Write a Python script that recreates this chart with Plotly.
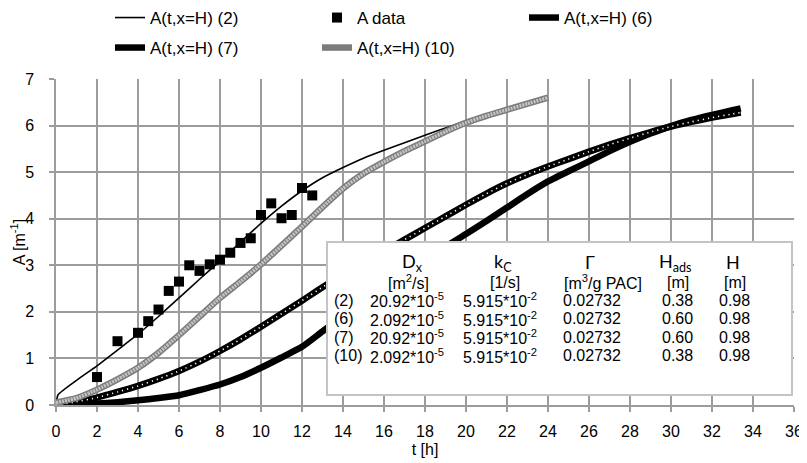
import plotly.graph_objects as go

# ---------------- data ----------------
t_data = [2, 3, 4, 4.5, 5, 5.5, 6, 6.5, 7, 7.5, 8, 8.5, 9, 9.5, 10, 10.5, 11, 11.5, 12, 12.5]
A_data = [0.6, 1.37, 1.55, 1.8, 2.05, 2.45, 2.65, 3.0, 2.88, 3.02, 3.12, 3.27, 3.48, 3.58, 4.08, 4.33, 4.01, 4.08, 4.66, 4.5]

t_2 = [0, 0.1, 1, 2, 3, 4, 5, 6, 7, 8, 9, 10, 11, 12, 13, 14, 15, 16, 17, 18, 19, 20, 21]
A_2 = [0, 0.22, 0.53, 0.84, 1.18, 1.52, 1.9, 2.3, 2.7, 3.09, 3.5, 3.9, 4.27, 4.6, 4.88, 5.1, 5.3, 5.47, 5.63, 5.79, 5.95, 6.1, 6.23]

t_6 = [0, 1, 2, 3, 4, 5, 6, 7, 8, 9, 10, 11, 12, 13, 14, 15, 16, 17, 18, 19, 20, 21, 22, 23, 24,
       25, 26, 27, 28, 29, 30, 31, 32, 33, 33.4]
A_6 = [0, 0.01, 0.03, 0.06, 0.1, 0.15, 0.21, 0.32, 0.44, 0.6, 0.8, 1.02, 1.25, 1.58, 1.9, 2.2, 2.5, 2.8, 3.1, 3.4, 3.67, 3.95, 4.24, 4.53, 4.8,
       5.02, 5.23, 5.45, 5.65, 5.83, 5.99, 6.12, 6.23, 6.33, 6.37]

t_7 = [0, 1, 2, 3, 4, 5, 6, 7, 8, 9, 10, 11, 12, 13, 14, 15, 16, 17, 18, 19, 20, 21, 22, 23, 24,
       25, 26, 27, 28, 29, 30, 31, 32, 33, 33.4]
A_7 = [0, 0.07, 0.16, 0.28, 0.41, 0.56, 0.73, 0.93, 1.16, 1.41, 1.68, 1.96, 2.24, 2.53, 2.8, 3.05, 3.3, 3.55, 3.8, 4.05, 4.3, 4.54, 4.76, 4.95, 5.12,
       5.28, 5.44, 5.59, 5.73, 5.86, 5.98, 6.08, 6.17, 6.25, 6.28]

t_10 = [0, 1, 2, 3, 4, 5, 6, 7, 8, 9, 10, 11, 12, 13, 14, 15, 16, 17, 18, 19, 20, 21, 22, 23, 24]
A_10 = [0.05, 0.15, 0.33, 0.55, 0.8, 1.12, 1.5, 1.9, 2.3, 2.65, 3.02, 3.42, 3.83, 4.25, 4.65, 4.97, 5.22, 5.45, 5.66, 5.87, 6.06, 6.21, 6.34, 6.47, 6.6]

x_ticks = list(range(0, 37, 2))
y_ticks = list(range(0, 8))

# parameter table
tbl_head = ["D<sub>x</sub>", "k<sub>C</sub>", "Γ", "H<sub>ads</sub>", "H"]
tbl_units = ["[m<sup>2</sup>/s]", "[1/s]", "[m<sup>3</sup>/g PAC]", "[m]", "[m]"]
row_labels = ["(2)", "(6)", "(7)", "(10)"]
Dx_vals = ["20.92*10<sup>-5</sup>", "2.092*10<sup>-5</sup>", "20.92*10<sup>-5</sup>", "2.092*10<sup>-5</sup>"]
kC_vals = ["5.915*10<sup>-2</sup>"] * 4
Gamma_vals = ["0.02732"] * 4
Hads_vals = ["0.38", "0.60", "0.60", "0.38"]
H_vals = ["0.98", "0.98", "0.98", "0.98"]

# ---------------- layout geometry ----------------
# the page body has an 8px default margin, so the figure is drawn 8px right/down
OFF = 8
W, Hh = 807 - OFF, 463 - OFF
# screen positions of the plot area: x 56..794, y 79..405
ML = 56 - OFF
MT = 79 - OFF
MR = W - (794 - OFF)
MB = Hh - (405 - OFF)
PW, PH = W - ML - MR, Hh - MT - MB


def px(x):
    """screen x pixel -> paper x"""
    return (x - OFF - ML) / PW


def py(y):
    """screen y pixel -> paper y"""
    return (Hh - MB - (y - OFF)) / PH


FONT = "Liberation Sans, Arial, sans-serif"
GRID = "#9c9c9c"

fig = go.Figure()

fig.add_trace(go.Scatter(x=t_2, y=A_2, mode="lines", name="A(t,x=H) (2)",
                         line=dict(color="black", width=1.6, shape="spline", smoothing=0.5),
                         legend="legend"))
fig.add_trace(go.Scatter(x=t_data, y=A_data, mode="markers", name="A data",
                         marker=dict(symbol="square", size=10, color="black"),
                         legend="legend"))
fig.add_trace(go.Scatter(x=t_6, y=A_6, mode="lines", name="A(t,x=H) (6)",
                         line=dict(color="black", width=6.5, shape="spline", smoothing=0.5),
                         legend="legend"))
fig.add_trace(go.Scatter(x=t_7, y=A_7, mode="lines", name="A(t,x=H) (7)",
                         line=dict(color="black", width=6.5, shape="spline", smoothing=0.5),
                         legend="legend2"))
fig.add_trace(go.Scatter(x=t_7, y=A_7, mode="lines", showlegend=False, hoverinfo="skip",
                         line=dict(color="white", width=1.6, dash="1.2px,4px", shape="spline", smoothing=0.5)))
fig.add_trace(go.Scatter(x=t_10, y=A_10, mode="lines", name="A(t,x=H) (10)",
                         line=dict(color="#7c7c7c", width=6.5, shape="spline", smoothing=0.5),
                         legend="legend2"))
fig.add_trace(go.Scatter(x=t_10, y=A_10, mode="lines", showlegend=False, hoverinfo="skip",
                         line=dict(color="#c4c4c4", width=3.5, dash="2px,1px", shape="spline", smoothing=0.5)))

# table box (covers curves)
fig.add_shape(type="rect", xref="paper", yref="paper",
              x0=px(327), x1=px(792), y0=py(395), y1=py(242),
              fillcolor="white", line=dict(color="#c4c4c4", width=2), layer="above")

ann = []
head_x = [412, 503, 590, 675, 733]
unit_x = [408, 505, 603, 678, 735]
for txt, x in zip(tbl_head, head_x):
    ann.append(dict(x=px(x), y=py(262), text=txt, xanchor="center", yanchor="middle",
                    font=dict(family="Lato, Carlito, sans-serif", size=18, color="black")))
for txt, x in zip(tbl_units, unit_x):
    ann.append(dict(x=px(x), y=py(282), text=txt, xanchor="center", yanchor="middle",
                    font=dict(family=FONT, size=16, color="black")))
row_y = [300, 318.5, 337, 355.5]
col_x = [332, 368, 461, 561, 660, 717]
for i, yy in enumerate(row_y):
    vals = [row_labels[i], Dx_vals[i], kC_vals[i], Gamma_vals[i], Hads_vals[i], H_vals[i]]
    for v, x in zip(vals, col_x):
        ann.append(dict(x=px(x), y=py(yy), text=v, xanchor="left", yanchor="middle",
                        font=dict(family=FONT, size=16, color="black")))
for a in ann:
    a.update(xref="paper", yref="paper", showarrow=False)

legend_common = dict(orientation="h", xanchor="left", yanchor="middle",
                     font=dict(family=FONT, size=17, color="black"),
                     entrywidth=162, entrywidthmode="pixels",
                     bgcolor="rgba(0,0,0,0)", borderwidth=0)

fig.update_layout(
    width=W, height=Hh,
    margin=dict(l=ML, r=MR, t=MT, b=MB, pad=0, autoexpand=False),
    paper_bgcolor="white", plot_bgcolor="white",
    font=dict(family=FONT, size=16, color="black"),
    showlegend=True,
    legend=dict(x=px(110), y=py(18), **legend_common),
    legend2=dict(x=px(110), y=py(48), **legend_common),
    annotations=ann,
    xaxis=dict(range=[0, 36], tickvals=x_ticks, ticktext=[str(v) for v in x_ticks],
               showgrid=True, gridcolor=GRID, gridwidth=1.5,
               showline=True, linecolor=GRID, linewidth=1.5,
               ticks="outside", ticklen=5, tickcolor=GRID, tickwidth=1.5,
               ticklabelstandoff=6, zeroline=False, automargin=False,
               tickfont=dict(size=16, color="black"),
               title=dict(text="t [h]", font=dict(size=16, color="black"), standoff=5)),
    yaxis=dict(range=[0, 7], tickvals=y_ticks, ticktext=[str(v) for v in y_ticks],
               showgrid=True, gridcolor=GRID, gridwidth=1.5,
               showline=True, linecolor=GRID, linewidth=1.5,
               ticks="outside", ticklen=5, tickcolor=GRID, tickwidth=1.5,
               ticklabelstandoff=12, zeroline=False, automargin=False,
               tickfont=dict(size=16, color="black"),
               title=dict(text="A [m<sup>-1</sup>]", font=dict(size=16, color="black"), standoff=4)),
)

fig.write_html("out.html")
